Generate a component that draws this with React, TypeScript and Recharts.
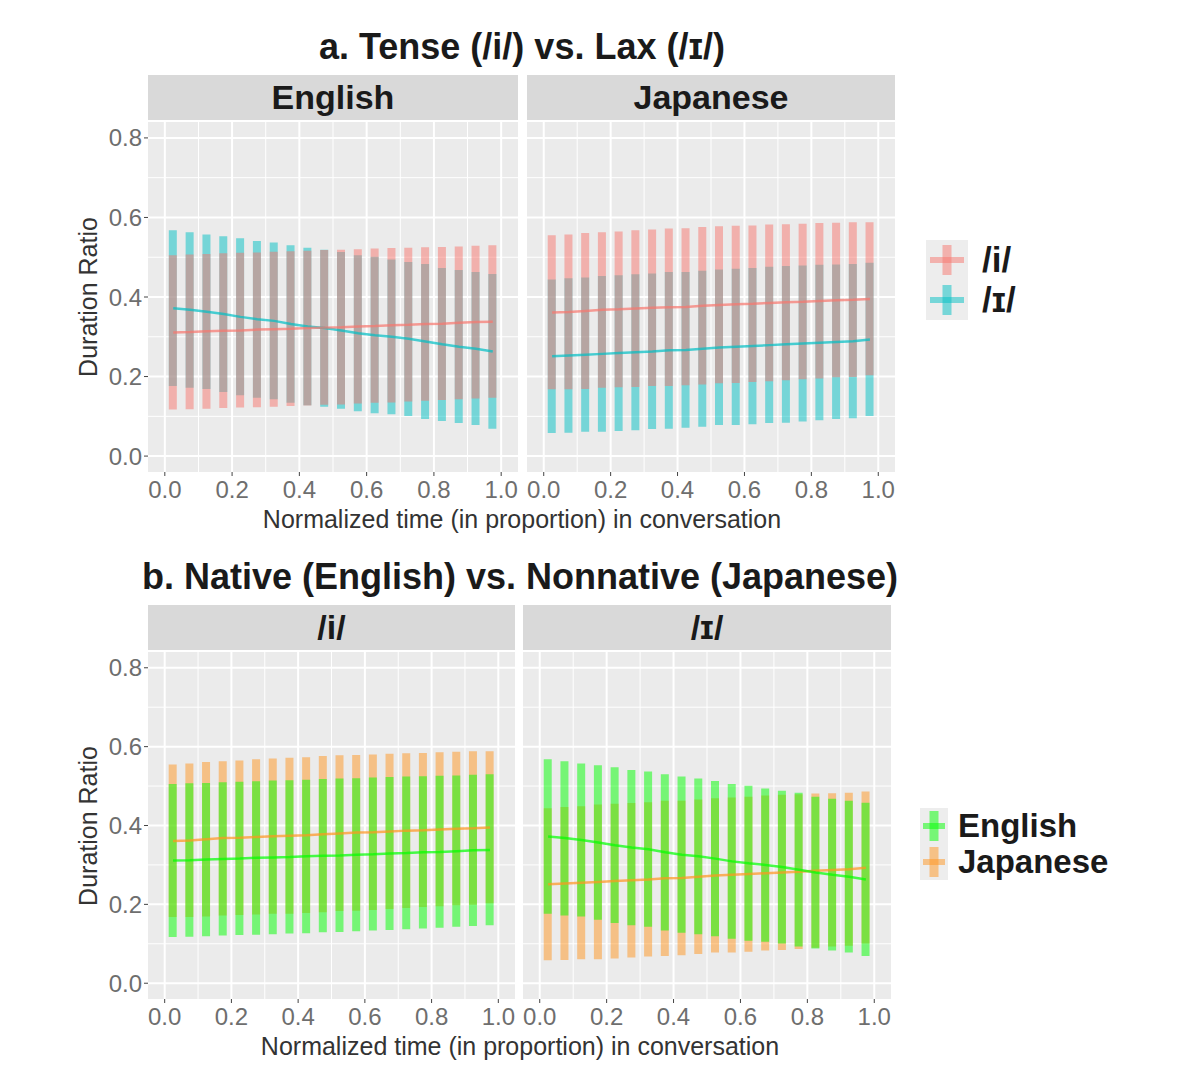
import { ComposedChart, Bar, Line, XAxis, YAxis, CartesianGrid } from 'recharts'

const FONT = '"Liberation Sans", Arial, Helvetica, sans-serif'

// normalized time bins (centres)
const timePoints = [
  0.025, 0.075, 0.125, 0.175, 0.225, 0.275, 0.325, 0.375, 0.425, 0.475,
  0.525, 0.575, 0.625, 0.675, 0.725, 0.775, 0.825, 0.875, 0.925, 0.975,
]

// English speakers, tense /i/
const engTenseLo = [0.117, 0.118, 0.119, 0.121, 0.122, 0.123, 0.124, 0.126, 0.127, 0.129, 0.130, 0.132, 0.134, 0.135, 0.137, 0.139, 0.141, 0.143, 0.145, 0.147]
const engTenseHi = [0.505, 0.507, 0.508, 0.510, 0.511, 0.512, 0.514, 0.515, 0.516, 0.518, 0.519, 0.520, 0.522, 0.523, 0.524, 0.525, 0.526, 0.527, 0.529, 0.530]
const engTenseMean = [0.311, 0.312, 0.314, 0.315, 0.316, 0.318, 0.319, 0.320, 0.322, 0.323, 0.324, 0.326, 0.327, 0.329, 0.330, 0.332, 0.333, 0.335, 0.337, 0.338]

// English speakers, lax /ɪ/
const engLaxLo = [0.176, 0.172, 0.169, 0.161, 0.153, 0.147, 0.143, 0.134, 0.128, 0.124, 0.119, 0.113, 0.108, 0.105, 0.101, 0.093, 0.088, 0.083, 0.078, 0.069]
const engLaxHi = [0.568, 0.563, 0.557, 0.553, 0.548, 0.541, 0.537, 0.530, 0.524, 0.519, 0.513, 0.505, 0.501, 0.494, 0.488, 0.483, 0.473, 0.468, 0.463, 0.458]
const engLaxMean = [0.372, 0.368, 0.363, 0.357, 0.350, 0.344, 0.340, 0.332, 0.326, 0.322, 0.316, 0.309, 0.304, 0.300, 0.295, 0.288, 0.281, 0.275, 0.270, 0.263]

// Japanese speakers, tense /i/
const jpnTenseLo = [0.168, 0.168, 0.169, 0.172, 0.173, 0.174, 0.176, 0.176, 0.178, 0.180, 0.183, 0.184, 0.186, 0.188, 0.191, 0.193, 0.195, 0.198, 0.199, 0.203]
const jpnTenseHi = [0.555, 0.557, 0.561, 0.563, 0.565, 0.568, 0.570, 0.572, 0.573, 0.576, 0.578, 0.579, 0.580, 0.582, 0.583, 0.584, 0.586, 0.587, 0.588, 0.588]
const jpnTenseMean = [0.361, 0.362, 0.365, 0.368, 0.369, 0.371, 0.373, 0.374, 0.375, 0.378, 0.380, 0.382, 0.383, 0.385, 0.387, 0.388, 0.390, 0.392, 0.393, 0.395]

// Japanese speakers, lax /ɪ/
const jpnLaxLo = [0.058, 0.059, 0.061, 0.061, 0.063, 0.065, 0.068, 0.069, 0.071, 0.074, 0.078, 0.078, 0.080, 0.083, 0.084, 0.087, 0.090, 0.093, 0.095, 0.101]
const jpnLaxHi = [0.444, 0.447, 0.449, 0.453, 0.455, 0.457, 0.459, 0.463, 0.463, 0.466, 0.469, 0.471, 0.473, 0.476, 0.478, 0.479, 0.481, 0.482, 0.483, 0.486]
const jpnLaxMean = [0.251, 0.253, 0.255, 0.257, 0.259, 0.261, 0.263, 0.266, 0.267, 0.270, 0.273, 0.275, 0.277, 0.279, 0.281, 0.283, 0.285, 0.287, 0.289, 0.293]

const xTicks = [0, 0.2, 0.4, 0.6, 0.8, 1]
const xMinor = [0.1, 0.3, 0.5, 0.7, 0.9]
const yTicks = [0, 0.2, 0.4, 0.6, 0.8]
const yMinor = [0.1, 0.3, 0.5, 0.7]
const X_DOMAIN: [number, number] = [-0.05, 1.05]
const Y_DOMAIN: [number, number] = [-0.04, 0.84]

const RED = '#F8766D'
const CYAN = '#00BFC4'
const GREEN = '#00FF00'
const ORANGE = '#FF9520'

type Series = { lo: number[]; hi: number[]; mean: number[]; color: string }

const engTense: Series = { lo: engTenseLo, hi: engTenseHi, mean: engTenseMean, color: RED }
const engLax: Series = { lo: engLaxLo, hi: engLaxHi, mean: engLaxMean, color: CYAN }
const jpnTense: Series = { lo: jpnTenseLo, hi: jpnTenseHi, mean: jpnTenseMean, color: RED }
const jpnLax: Series = { lo: jpnLaxLo, hi: jpnLaxHi, mean: jpnLaxMean, color: CYAN }

const withColor = (s: Series, color: string): Series => ({ ...s, color })

function buildRows(back: Series, front: Series) {
  return timePoints.map((t, i) => ({
    t,
    backRange: [back.lo[i], back.hi[i]],
    frontRange: [front.lo[i], front.hi[i]],
    backMean: back.mean[i],
    frontMean: front.mean[i],
  }))
}

const tickStyle = { fill: '#6e6e6e', fontSize: 24, fontFamily: FONT }

interface FacetProps {
  left: number
  top: number
  width: number
  height: number
  showY: boolean
  back: Series
  front: Series
}

function Facet({ left, top, width, height, showY, back, front }: FacetProps) {
  const yAxisW = showY ? 70 : 0
  const xAxisH = 40
  const data = buildRows(back, front)
  return (
    <div style={{ position: 'absolute', left: left - yAxisW, top }}>
      <ComposedChart
        width={width + yAxisW}
        height={height + xAxisH}
        data={data}
        margin={{ top: 0, right: 0, bottom: 0, left: 0 }}
      >
        <CartesianGrid fill="#EBEBEB" stroke="#FFFFFF" strokeWidth={1} horizontalValues={yMinor} verticalValues={xMinor} />
        <CartesianGrid stroke="#FFFFFF" strokeWidth={2} horizontalValues={yTicks} verticalValues={xTicks} />
        <XAxis
          dataKey="t"
          type="number"
          domain={X_DOMAIN}
          ticks={xTicks}
          allowDataOverflow
          height={xAxisH}
          axisLine={false}
          tickLine={{ stroke: '#444' }}
          tickSize={4}
          tickMargin={5}
          tick={tickStyle}
          tickFormatter={(v: number) => v.toFixed(1)}
          interval={0}
        />
        <XAxis xAxisId="front" dataKey="t" type="number" domain={X_DOMAIN} allowDataOverflow hide />
        <YAxis
          type="number"
          domain={Y_DOMAIN}
          ticks={yTicks}
          allowDataOverflow
          width={yAxisW}
          hide={!showY}
          axisLine={false}
          tickLine={{ stroke: '#444' }}
          tickSize={4}
          tickMargin={2}
          tick={tickStyle}
          tickFormatter={(v: number) => v.toFixed(1)}
          interval={0}
        />
        <Bar dataKey="backRange" fill={back.color} fillOpacity={0.5} barSize={8} isAnimationActive={false} />
        <Bar xAxisId="front" dataKey="frontRange" fill={front.color} fillOpacity={0.5} barSize={8} isAnimationActive={false} />
        <Line dataKey="backMean" type="linear" stroke={back.color} strokeOpacity={0.7} strokeWidth={2.5} dot={false} activeDot={false} isAnimationActive={false} />
        <Line dataKey="frontMean" type="linear" stroke={front.color} strokeOpacity={0.7} strokeWidth={2.5} dot={false} activeDot={false} isAnimationActive={false} />
      </ComposedChart>
    </div>
  )
}

function Strip({ left, top, width, label }: { left: number; top: number; width: number; label: string }) {
  return (
    <div
      style={{
        position: 'absolute', left, top, width, height: 45, background: '#D9D9D9',
        display: 'flex', alignItems: 'center', justifyContent: 'center',
        fontSize: 34, fontWeight: 'bold', color: '#1A1A1A',
      }}
    >
      {label}
    </div>
  )
}

function Text({ cx, cy, size, bold, children, rotate, color }: any) {
  return (
    <div
      style={{
        position: 'absolute', left: cx - 400, top: cy - 25, width: 800, height: 50, lineHeight: '50px',
        textAlign: 'center', fontSize: size, fontWeight: bold ? 'bold' : 'normal', color: color ?? '#1A1A1A',
        whiteSpace: 'nowrap', transform: rotate ? 'rotate(-90deg)' : undefined,
      }}
    >
      {children}
    </div>
  )
}

interface LegendItem { label: string; color: string }

function Legend({ left, top, keyW, keyH, crossW, textLeft, fontSize, items }: {
  left: number; top: number; keyW: number; keyH: number; crossW: number; textLeft: number; fontSize: number; items: LegendItem[]
}) {
  return (
    <>
      <div style={{ position: 'absolute', left, top, width: keyW, height: keyH * items.length, background: '#EDEDED' }} />
      {items.map((it, i) => (
        <div key={it.label}>
          <svg style={{ position: 'absolute', left, top: top + i * keyH }} width={keyW} height={keyH}>
            <rect x={keyW / 2 - 4.5} y={keyH / 2 - 15} width={9} height={30} fill={it.color} fillOpacity={0.5} />
            <rect x={keyW / 2 - crossW / 2} y={keyH / 2 - 3} width={crossW} height={6} fill={it.color} fillOpacity={0.5} />
          </svg>
          <div
            style={{
              position: 'absolute', left: textLeft, top: top + i * keyH, height: keyH, lineHeight: `${keyH}px`,
              fontSize, fontWeight: 'bold', color: '#1A1A1A', whiteSpace: 'nowrap',
            }}
          >
            {it.label}
          </div>
        </div>
      ))}
    </>
  )
}

const xTitle = 'Normalized time (in proportion) in conversation'

export default function App() {
  return (
    <div style={{ position: 'absolute', left: 0, top: 0, width: 1200, height: 1091, background: '#fff', fontFamily: FONT, overflow: 'hidden' }}>
      {/* a. facets by speaker group */}
      <Text cx={522} cy={47} size={36} bold>a. Tense (/i/) vs. Lax (/ɪ/)</Text>
      <Strip left={148} top={75} width={370} label="English" />
      <Strip left={527} top={75} width={368} label="Japanese" />
      <Facet left={148} top={122} width={370} height={350} showY back={engLax} front={engTense} />
      <Facet left={527} top={122} width={368} height={350} showY={false} back={jpnLax} front={jpnTense} />
      <Text cx={522} cy={519} size={25} color="#333">{xTitle}</Text>
      <Text cx={88} cy={297} size={25} rotate color="#333">Duration Ratio</Text>
      <Legend
        left={926} top={240} keyW={42} keyH={40} crossW={34} textLeft={982} fontSize={35}
        items={[{ label: '/i/', color: RED }, { label: '/ɪ/', color: CYAN }]}
      />

      {/* b. facets by vowel */}
      <Text cx={520} cy={577} size={36} bold>b. Native (English) vs. Nonnative (Japanese)</Text>
      <Strip left={148} top={605} width={367} label="/i/" />
      <Strip left={523} top={605} width={368} label="/ɪ/" />
      <Facet left={148} top={652} width={367} height={347} showY back={withColor(jpnTense, ORANGE)} front={withColor(engTense, GREEN)} />
      <Facet left={523} top={652} width={368} height={347} showY={false} back={withColor(jpnLax, ORANGE)} front={withColor(engLax, GREEN)} />
      <Text cx={520} cy={1046} size={25} color="#333">{xTitle}</Text>
      <Text cx={88} cy={826} size={25} rotate color="#333">Duration Ratio</Text>
      <Legend
        left={920} top={808} keyW={28} keyH={36} crossW={22} textLeft={958} fontSize={33}
        items={[{ label: 'English', color: GREEN }, { label: 'Japanese', color: ORANGE }]}
      />
    </div>
  )
}
